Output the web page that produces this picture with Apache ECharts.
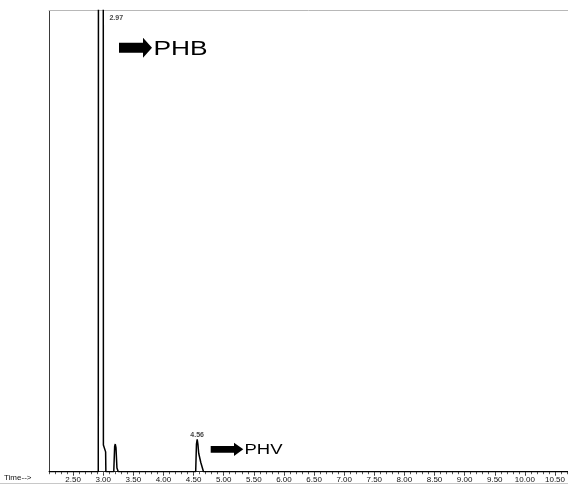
<!DOCTYPE html>
<html>
<head>
<meta charset="utf-8">
<script src="https://cdn.jsdelivr.net/npm/echarts@6/dist/echarts.min.js"></script>
<style>
  html, body { margin: 0; padding: 0; background: #fff; }
  #chart { width: 568px; height: 485px; }
</style>
</head>
<body>
<div id="chart"></div>
<script>
// Total ion chromatogram: retention time (min) vs. relative abundance
const retentionTimes = [
  2.10, 2.918, 2.922, 2.97, 3.000, 3.003, 3.040, 3.044,
  3.175, 3.190, 3.200, 3.212, 3.228, 3.250,
  4.535, 4.548, 4.56, 4.572, 4.585, 4.620, 4.665, 10.72
];
const abundance = [
  0, 0, 160, 400, 160, 5.8, 4.3, 0,
  0, 5.5, 6.0, 5.2, 0.8, 0,
  0, 6.0, 7.0, 6.0, 4.0, 2.0, 0, 0
];

// Labelled peak apexes (retention time, abundance at the label anchor)
const peakTimes = [2.97, 4.56];
const peakLabelLevels = [100, 7.0];

// Axis tick labels
const majorTicks = [2.5, 3.0, 3.5, 4.0, 4.5, 5.0, 5.5, 6.0, 6.5, 7.0, 7.5, 8.0, 8.5, 9.0, 9.5, 10.0, 10.5];
const minorTicks = [];
for (let i = 21; i <= 107; i++) minorTicks.push(i / 10);

const X_MIN = 2.10, X_MAX = 10.716;
const FONT = '"Liberation Sans", Arial, sans-serif';

const trace = retentionTimes.map((t, i) => [t, abundance[i]]);
const peaks = peakTimes.map((t, i) => [t, peakLabelLevels[i]]);

const chart = echarts.init(document.getElementById('chart'), null, { renderer: 'canvas' });

chart.setOption({
  backgroundColor: '#ffffff',
  animation: false,
  grid: { left: 49, right: 0, top: 10.5, bottom: 13.3, containLabel: false },
  xAxis: [
    {
      type: 'value', min: X_MIN, max: X_MAX, position: 'bottom',
      axisLine: { show: true, lineStyle: { color: '#222', width: 1 } },
      axisTick: { show: true, customValues: majorTicks, length: 4, lineStyle: { color: '#333' } },
      axisLabel: {
        show: true, customValues: majorTicks, margin: 4,
        formatter: v => v.toFixed(2),
        fontFamily: FONT, fontSize: 8, color: '#111'
      },
      splitLine: { show: false }
    },
    {
      type: 'value', min: X_MIN, max: X_MAX, position: 'bottom',
      axisLine: { show: false },
      axisTick: { show: true, customValues: minorTicks, length: 2.5, lineStyle: { color: '#555' } },
      axisLabel: { show: false },
      splitLine: { show: false }
    },
    {
      type: 'value', min: X_MIN, max: X_MAX, position: 'top',
      axisLine: { show: true, lineStyle: { color: '#b8b8b8', width: 1 } },
      axisTick: { show: false },
      axisLabel: { show: false },
      splitLine: { show: false }
    }
  ],
  yAxis: {
    type: 'value', min: 0, max: 100,
    axisLine: { show: true, lineStyle: { color: '#3a3a3a', width: 1 } },
    axisTick: { show: false },
    axisLabel: { show: false },
    splitLine: { show: false }
  },
  series: [
    {
      type: 'line',
      data: trace,
      xAxisIndex: 0,
      symbol: 'none',
      clip: true,
      lineStyle: { color: '#000', width: 1.5 },
      z: 3
    },
    {
      type: 'scatter',
      data: [
        { value: peaks[0], label: { position: [8, 4], align: 'left', verticalAlign: 'top' } },
        { value: peaks[1], label: { position: 'top', distance: 1 } }
      ],
      xAxisIndex: 0,
      symbolSize: 0,
      clip: false,
      label: {
        show: true,
        formatter: p => p.value[0].toFixed(2),
        fontFamily: FONT, fontSize: 7, fontWeight: 'bold', color: '#111'
      },
      z: 4
    }
  ],
  graphic: [
    // Run-time caption at the left of the axis
    {
      type: 'text', x: 4, y: 478,
      style: { text: 'Time-->', font: '8px ' + FONT, fill: '#111', textVerticalAlign: 'middle' }
    },
    // Faint rule under the axis labels
    {
      type: 'line', shape: { x1: 0, y1: 483.5, x2: 568, y2: 483.5 },
      style: { stroke: '#c8c8c8', lineWidth: 1 }
    },
    // PHB annotation arrow and name
    {
      type: 'polygon',
      shape: { points: [[119, 42.7], [143, 42.7], [143, 37.7], [152, 47.7], [143, 57.7], [143, 52.7], [119, 52.7]] },
      style: { fill: '#000' }
    },
    {
      type: 'text', x: 153.5, y: 49.5, scaleX: 1.35,
      style: { text: 'PHB', font: '19.5px ' + FONT, fill: '#000', textVerticalAlign: 'middle' }
    },
    // PHV annotation arrow and name
    {
      type: 'polygon',
      shape: { points: [[210.7, 445.9], [234, 445.9], [234, 442.7], [243.3, 449.3], [234, 455.9], [234, 452.7], [210.7, 452.7]] },
      style: { fill: '#000' }
    },
    {
      type: 'text', x: 244.5, y: 450, scaleX: 1.32,
      style: { text: 'PHV', font: '14px ' + FONT, fill: '#000', textVerticalAlign: 'middle' }
    }
  ]
});
</script>
</body>
</html>
